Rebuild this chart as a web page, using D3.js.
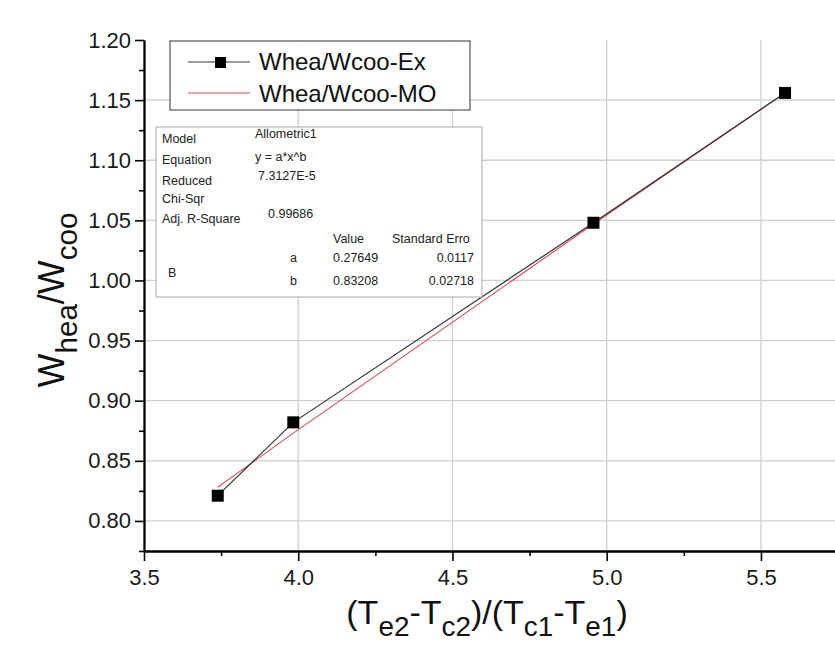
<!DOCTYPE html>
<html>
<head>
<meta charset="utf-8">
<script src="https://cdn.jsdelivr.net/npm/d3@7/dist/d3.min.js"></script>
<style>
  html, body { margin: 0; padding: 0; background: #fff; }
  svg { display: block; font-family: "Liberation Sans", Arial, sans-serif; }
</style>
</head>
<body>
<svg id="chart" width="835" height="645"></svg>
<script>
// Temperature-difference ratio (x) and work ratio (y)
const xValues = [3.739, 3.984, 4.957, 5.578];
const exValues = [0.821, 0.882, 1.048, 1.156];   // Whea/Wcoo-Ex (experiment)
const moValues = [0.828, 0.873, 1.047, 1.156];   // Whea/Wcoo-MO (model)

const xMajorTicks = [3.5, 4.0, 4.5, 5.0, 5.5];
const xMinorTicks = [3.75, 4.25, 4.75, 5.25];
const yMajorTicks = [0.80, 0.85, 0.90, 0.95, 1.00, 1.05, 1.10, 1.15, 1.20];
const yMinorTicks = [0.775, 0.825, 0.875, 0.925, 0.975, 1.025, 1.075, 1.125, 1.175];

const seriesNames = ["Whea/Wcoo-Ex", "Whea/Wcoo-MO"];

// Fit summary table
const fitRows = [
  ["Model", "Allometric1"],
  ["Equation", "y = a*x^b"],
  ["Reduced\nChi-Sqr", "7.3127E-5"],
  ["Adj. R-Square", "0.99686"]
];
const paramHeader = ["Value", "Standard Erro"];
const paramNames = ["a", "b"];
const paramValues = ["0.27649", "0.83208"];
const paramErrors = ["0.0117", "0.02718"];

const svg = d3.select("#chart");
const x = d3.scaleLinear().domain([3.5, 5.74]).range([144, 835]);
const y = d3.scaleLinear().domain([0.775, 1.20]).range([551, 40]);

// grid
const grid = svg.append("g").attr("stroke", "#cfcfcf").attr("stroke-width", 1.3);
grid.selectAll("line.gx").data(xMajorTicks.slice(1)).join("line")
  .attr("x1", d => x(d)).attr("x2", d => x(d)).attr("y1", y(1.20)).attr("y2", y(0.775));
grid.selectAll("line.gy").data(yMajorTicks.slice(0, -1)).join("line")
  .attr("x1", x(3.5)).attr("x2", 835).attr("y1", d => y(d)).attr("y2", d => y(d));

// series lines
const line = d3.line().x(d => x(d[0])).y(d => y(d[1]));
svg.append("path").datum(xValues.map((v, i) => [v, moValues[i]]))
  .attr("d", line).attr("fill", "none").attr("stroke", "#d84a5a").attr("stroke-width", 1.1);
svg.append("path").datum(xValues.map((v, i) => [v, exValues[i]]))
  .attr("d", line).attr("fill", "none").attr("stroke", "#333").attr("stroke-width", 1.2);
svg.append("g").selectAll("rect").data(xValues.map((v, i) => [v, exValues[i]])).join("rect")
  .attr("x", d => x(d[0]) - 6).attr("y", d => y(d[1]) - 6)
  .attr("width", 12).attr("height", 12).attr("fill", "#000");

// axes
function styleAxis(g) {
  g.select(".domain").attr("stroke", "#000").attr("stroke-width", 1.8);
  g.selectAll(".tick line").attr("stroke", "#000").attr("stroke-width", 1.6);
  g.selectAll(".tick text").attr("fill", "#1a1a1a").style("font-size", "22px")
   .style("font-family", "'Liberation Sans', Arial, sans-serif");
}
const yAxis = svg.append("g").attr("transform", `translate(${x(3.5)},0)`)
  .call(d3.axisLeft(y).tickValues(yMajorTicks).tickFormat(d3.format(".2f"))
        .tickSize(9).tickSizeOuter(0).tickPadding(4));
styleAxis(yAxis);
const yMinor = svg.append("g").attr("transform", `translate(${x(3.5)},0)`)
  .call(d3.axisLeft(y).tickValues(yMinorTicks).tickFormat("").tickSize(5).tickSizeOuter(0));
styleAxis(yMinor);

const xAxis = svg.append("g").attr("transform", `translate(0,${y(0.775)})`)
  .call(d3.axisBottom(x).tickValues(xMajorTicks).tickFormat(d3.format(".1f"))
        .tickSize(10).tickSizeOuter(0).tickPadding(8));
styleAxis(xAxis);
const xMinor = svg.append("g").attr("transform", `translate(0,${y(0.775)})`)
  .call(d3.axisBottom(x).tickValues(xMinorTicks).tickFormat("").tickSize(5).tickSizeOuter(0));
styleAxis(xMinor);

// axis titles with subscripts
function richText(sel, parts, size) {
  parts.forEach(p => {
    const t = sel.append("tspan").text(p.t);
    if (p.sub) t.attr("baseline-shift", "-42%").style("font-size", (size * 0.82) + "px");
  });
}
const xt = svg.append("text").attr("x", 487).attr("y", 624).attr("text-anchor", "middle")
  .style("font-size", "34px").attr("fill", "#111");
richText(xt, [{t: "(T"}, {t: "e2", sub: true}, {t: "-T"}, {t: "c2", sub: true},
              {t: ")/(T"}, {t: "c1", sub: true}, {t: "-T"}, {t: "e1", sub: true}, {t: ")"}], 34);

const yt = svg.append("text").attr("transform", "translate(64,300) rotate(-90)")
  .attr("text-anchor", "middle").style("font-size", "36px").attr("fill", "#111");
richText(yt, [{t: "W"}, {t: "hea", sub: true}, {t: "/W"}, {t: "coo", sub: true}], 36);

// legend
const lg = svg.append("g");
lg.append("rect").attr("x", 170).attr("y", 41).attr("width", 300).attr("height", 69)
  .attr("fill", "#fff").attr("stroke", "#333").attr("stroke-width", 1);
lg.append("line").attr("x1", 188).attr("x2", 250).attr("y1", 62).attr("y2", 62)
  .attr("stroke", "#333").attr("stroke-width", 1.2);
lg.append("rect").attr("x", 215).attr("y", 57).attr("width", 11).attr("height", 11).attr("fill", "#000");
lg.append("line").attr("x1", 188).attr("x2", 250).attr("y1", 93).attr("y2", 93)
  .attr("stroke", "#d84a5a").attr("stroke-width", 1.1);
lg.selectAll("text").data(seriesNames).join("text")
  .attr("x", 259).attr("y", (d, i) => 70 + i * 32)
  .style("font-size", "24px").attr("fill", "#111").text(d => d);

// fit summary table
const tb = svg.append("g").style("font-size", "12.5px").attr("fill", "#222");
tb.append("rect").attr("x", 156).attr("y", 127).attr("width", 326).attr("height", 170)
  .attr("fill", "#fff").attr("stroke", "#aaa").attr("stroke-width", 1);
const rowY = [143, 164, 185, 223];
const valY = [138, 161, 180, 218];
const valX = [255, 255, 258, 268];
fitRows.forEach((r, i) => {
  r[0].split("\n").forEach((s, k) => {
    tb.append("text").attr("x", 162).attr("y", rowY[i] + k * 18).text(s);
  });
  tb.append("text").attr("x", valX[i]).attr("y", valY[i]).text(r[1]);
});
tb.append("text").attr("x", 333).attr("y", 243).text(paramHeader[0]);
tb.append("text").attr("x", 392).attr("y", 243).text(paramHeader[1]);
tb.append("text").attr("x", 168).attr("y", 277).text("B");
paramNames.forEach((p, i) => {
  const yy = 262 + i * 23;
  tb.append("text").attr("x", 290).attr("y", yy).text(p);
  tb.append("text").attr("x", 333).attr("y", yy).text(paramValues[i]);
  tb.append("text").attr("x", 474).attr("y", yy).attr("text-anchor", "end").text(paramErrors[i]);
});
</script>
</body>
</html>
